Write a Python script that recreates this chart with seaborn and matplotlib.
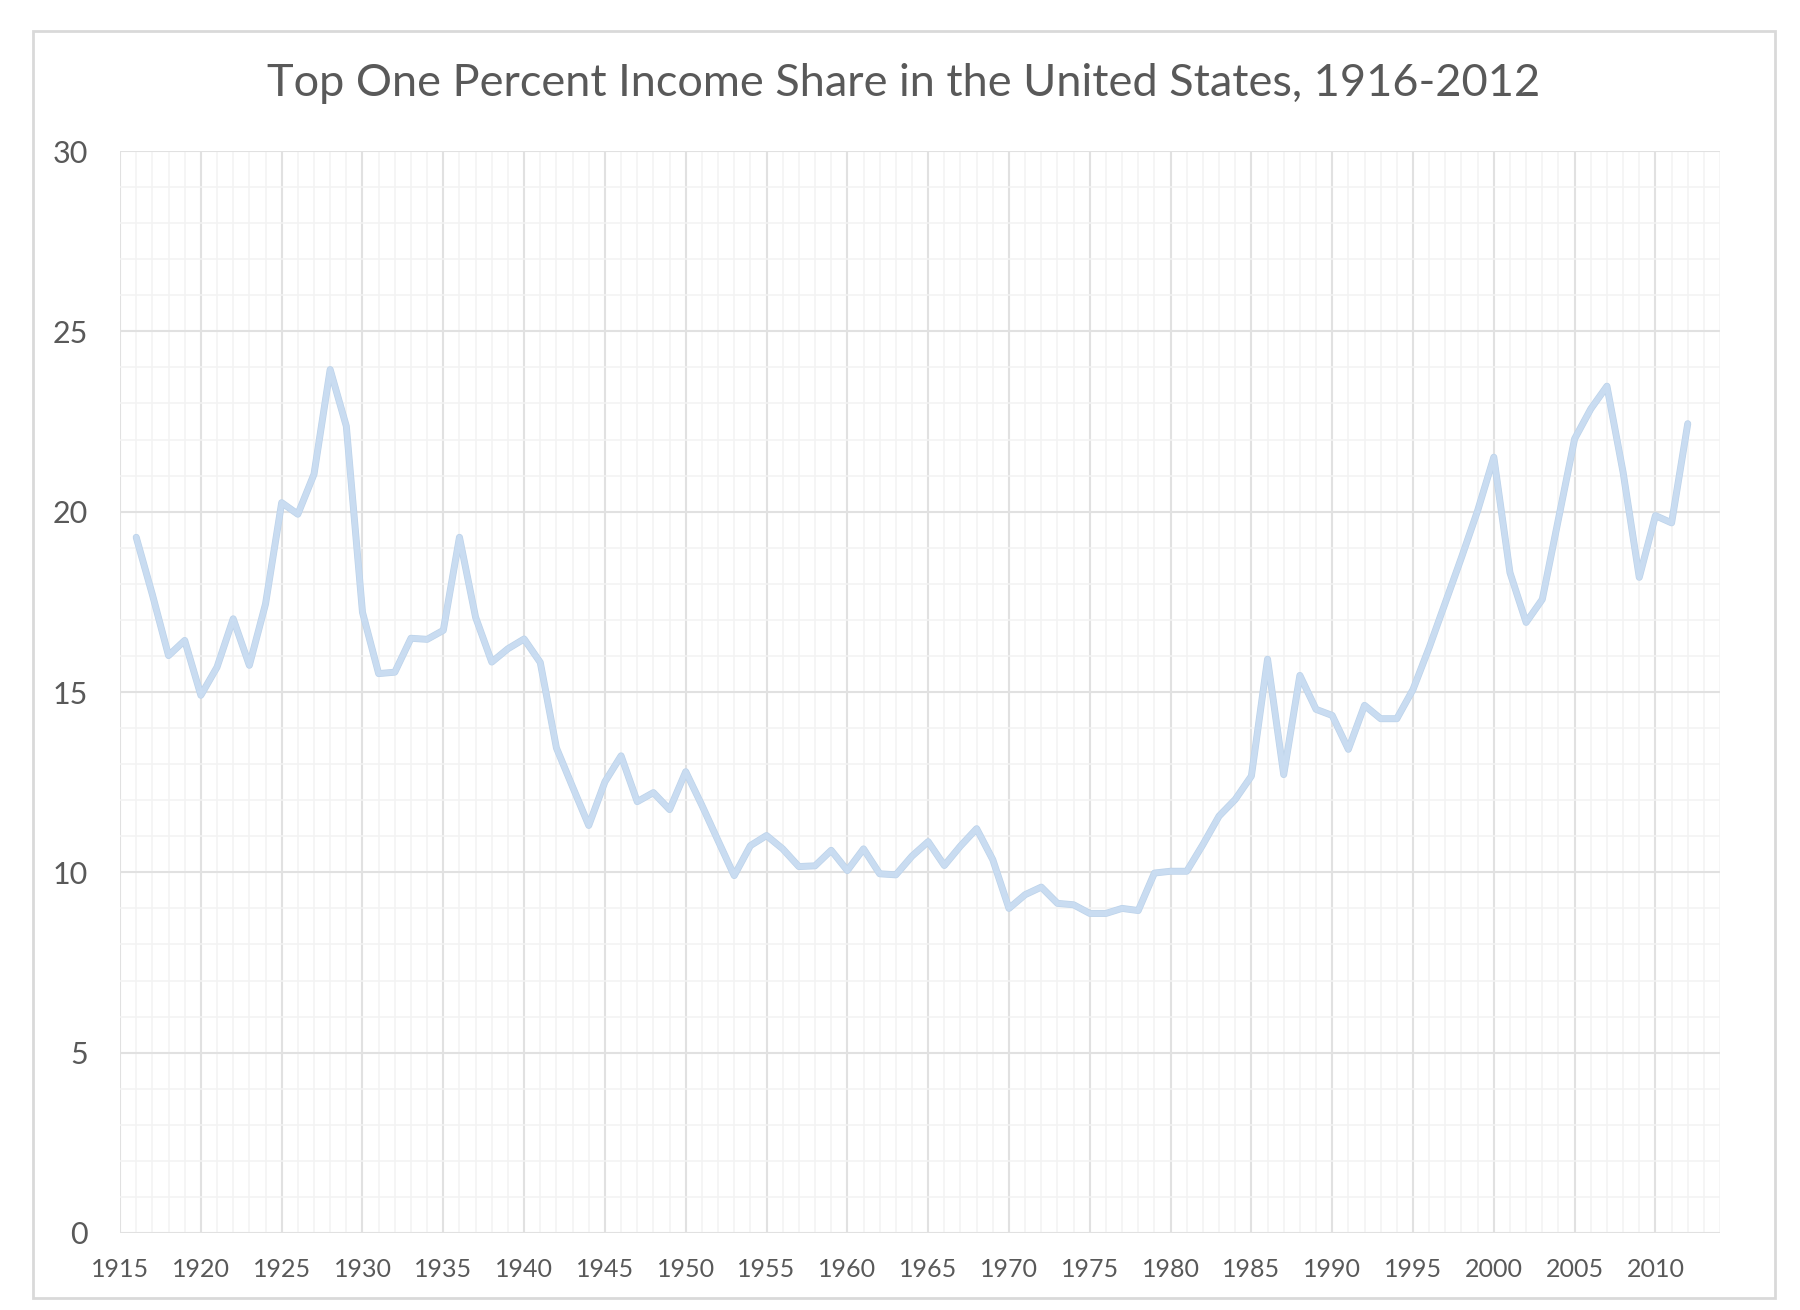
import numpy as np
import pandas as pd
import matplotlib.pyplot as plt
import matplotlib.patheffects as pe
from matplotlib.patches import Rectangle
from matplotlib.ticker import MultipleLocator
import seaborn as sns

# Top 1% income share (%)
years = list(range(1916, 2013))
share = [
    19.29, 17.70, 16.01, 16.43, 14.91, 15.69, 17.03, 15.74, 17.44, 20.25,  # 1916-1925
    19.93, 21.04, 23.94, 22.37, 17.21, 15.51, 15.55, 16.49, 16.46, 16.71,  # 1926-1935
    19.29, 17.07, 15.83, 16.20, 16.47, 15.82, 13.45, 12.37, 11.30, 12.51,  # 1936-1945
    13.23, 11.96, 12.21, 11.74, 12.79, 11.86, 10.88, 9.91, 10.74, 11.02,   # 1946-1955
    10.65, 10.16, 10.18, 10.61, 10.05, 10.65, 9.96, 9.93, 10.45, 10.85,    # 1956-1965
    10.19, 10.73, 11.21, 10.35, 9.00, 9.38, 9.59, 9.14, 9.10, 8.86,        # 1966-1975
    8.86, 9.00, 8.94, 9.98, 10.03, 10.03, 10.77, 11.56, 12.02, 12.67,      # 1976-1985
    15.91, 12.71, 15.46, 14.52, 14.35, 13.41, 14.63, 14.26, 14.26, 15.07,  # 1986-1995
    16.23, 17.48, 18.73, 20.03, 21.51, 18.31, 16.93, 17.57, 19.80, 22.02,  # 1996-2005
    22.85, 23.48, 21.09, 18.18, 19.89, 19.69, 22.44,                       # 2006-2012
]
title = 'Top One Percent Income Share in the United States, 1916-2012'

df = pd.DataFrame({'year': years, 'share': share})

sns.set_style('white')
plt.rcParams['font.family'] = ['Lato', 'DejaVu Sans']

text_color = '#595959'
major_grid = '#e1e1e1'
minor_grid = '#f3f3f3'

fig = plt.figure(figsize=(18, 13.1), dpi=100)
ax = fig.add_axes([0.0667, 0.0588, 0.8889, 0.8259])

# Chart area border like the spreadsheet frame
fig.patches.append(Rectangle((0.0183, 0.0092), 0.9678, 0.967, transform=fig.transFigure,
                             fill=False, edgecolor='#d9d9d9', linewidth=2))

sns.lineplot(data=df, x='year', y='share', ax=ax, color='#c9dcf1', linewidth=4,
             path_effects=[pe.Stroke(linewidth=5, foreground='#bdd3ea'), pe.Normal()])

# Axes limits and grid
ax.set_xlim(1915, 2014)
ax.set_ylim(0, 30)
ax.xaxis.set_major_locator(MultipleLocator(5))
ax.xaxis.set_minor_locator(MultipleLocator(1))
ax.yaxis.set_major_locator(MultipleLocator(5))
ax.yaxis.set_minor_locator(MultipleLocator(1))
ax.grid(which='major', color=major_grid, linewidth=1.5)
ax.grid(which='minor', color=minor_grid, linewidth=1.1)
ax.set_axisbelow(True)

xt = list(range(1915, 2014, 5))
ax.set_xticks(xt)
ax.set_xticklabels([str(t) for t in xt])

for s in ax.spines.values():
    s.set_visible(False)

ax.tick_params(axis='x', which='both', length=0, pad=18, labelsize=18, labelcolor=text_color)
ax.tick_params(axis='y', which='both', length=0, pad=23, labelsize=22, labelcolor=text_color)
ax.set_xlabel('')
ax.set_ylabel('')

fig.text(0.502, 0.936, title, ha='center', va='center', fontsize=32.5,
         color=text_color)

fig.savefig('out.png', dpi=100)
